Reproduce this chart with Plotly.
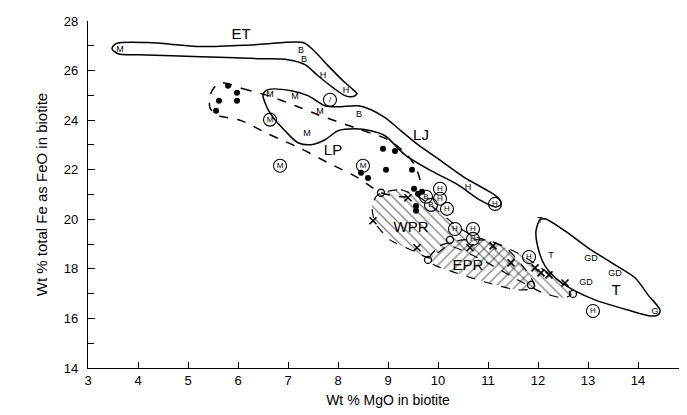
import plotly.graph_objects as go

# ---------------- data (wt % MgO, wt % FeO) ----------------
et_x = [3.48, 3.56, 4.20, 5.26, 6.40, 7.30, 7.50, 7.80, 8.10, 8.30, 8.38, 8.30, 8.14, 7.90, 7.60, 7.34, 7.00, 6.40, 5.26, 4.00, 3.60, 3.48]
et_y = [26.88, 27.09, 27.13, 26.97, 27.05, 27.13, 26.84, 26.20, 25.59, 25.23, 25.07, 24.95, 24.99, 25.31, 25.79, 26.24, 26.44, 26.48, 26.56, 26.64, 26.68, 26.88]

lj_x = [6.50, 6.60, 7.06, 7.40, 7.74, 8.00, 8.40, 8.66, 8.94, 9.26, 9.60, 10.06, 10.54, 11.00, 11.20, 11.26, 11.16, 10.86, 10.40, 9.86, 9.34, 8.94, 8.66, 8.34, 8.00, 7.74, 7.46, 7.20, 6.94, 6.66, 6.54, 6.50]
lj_y = [25.03, 25.23, 25.19, 24.99, 24.58, 24.54, 24.58, 24.42, 24.10, 23.57, 23.01, 22.36, 21.67, 21.15, 20.87, 20.62, 20.50, 20.75, 21.39, 21.96, 22.60, 23.37, 23.57, 23.65, 23.57, 23.21, 23.01, 23.09, 23.57, 24.22, 24.70, 25.03]

lp_x = [5.66, 6.10, 6.60, 7.20, 7.60, 8.34, 9.00, 9.34, 9.54, 9.64, 9.66, 9.60, 9.30, 8.86, 8.40, 7.80, 7.26, 6.60, 6.06, 5.56, 5.44, 5.44, 5.52, 5.66]
lp_y = [25.51, 25.27, 24.99, 24.54, 24.22, 23.69, 23.21, 22.68, 22.16, 21.59, 21.15, 20.95, 20.91, 21.07, 21.67, 22.28, 22.85, 23.45, 23.98, 24.22, 24.50, 24.99, 25.31, 25.51]

wpr_x = [8.86, 9.26, 9.64, 10.00, 10.34, 10.70, 11.20, 11.70, 12.20, 12.54, 12.66, 12.50, 12.10, 11.60, 11.10, 10.60, 10.20, 9.84, 9.50, 9.04, 8.74, 8.68, 8.76, 8.86]
wpr_y = [21.07, 21.19, 20.87, 20.34, 19.78, 19.33, 19.01, 18.52, 17.84, 17.31, 16.95, 16.83, 17.03, 17.55, 18.12, 18.64, 18.93, 18.44, 18.73, 19.17, 19.86, 20.54, 20.91, 21.07]

epr_x = [9.80, 10.04, 10.50, 11.04, 11.40, 11.64, 11.84, 11.94, 11.60, 10.94, 10.30, 9.96, 9.80]
epr_y = [18.36, 18.93, 19.17, 19.13, 18.77, 18.24, 17.72, 17.23, 17.15, 17.47, 17.88, 18.12, 18.36]

t_x = [12.04, 11.96, 12.00, 12.14, 12.40, 12.74, 13.14, 13.80, 14.26, 14.40, 14.44, 14.20, 13.94, 13.54, 13.00, 12.54, 12.14, 12.04]
t_y = [19.98, 19.53, 18.85, 18.12, 17.55, 17.11, 16.75, 16.34, 16.10, 16.14, 16.34, 16.95, 17.64, 18.16, 18.85, 19.53, 20.02, 19.98]

dot_x = [5.80, 5.98, 5.62, 5.98, 5.56, 8.90, 9.14, 8.96, 9.48, 8.46, 8.60, 9.52, 9.60, 9.68, 9.56, 9.56]
dot_y = [25.39, 25.11, 24.78, 24.78, 24.38, 22.85, 22.76, 22.00, 22.00, 21.88, 21.67, 21.23, 21.03, 21.11, 20.54, 20.34]

cross_x = [9.40, 8.70, 9.58, 10.64, 11.10, 11.46, 11.94, 12.06, 12.22, 12.54]
cross_y = [20.87, 19.94, 18.85, 18.85, 18.93, 18.24, 18.04, 17.84, 17.76, 17.43]

ring_x = [8.86, 9.80, 10.24, 11.86, 12.70]
ring_y = [21.07, 18.36, 19.17, 17.35, 16.99]

letter_x = [3.64, 6.64, 7.14, 7.64, 7.38, 7.26, 7.32, 8.42, 7.70, 8.16, 10.60, 12.04, 12.26, 13.06, 13.54, 12.96, 14.34]
letter_y = [26.84, 25.03, 24.95, 24.34, 23.45, 26.80, 26.44, 24.22, 25.79, 25.19, 21.27, 19.94, 18.52, 18.40, 17.80, 17.43, 16.26]
letter_t = ["M", "M", "M", "M", "M", "B", "B", "B", "H", "H", "H", "T", "T", "GD", "GD", "GD", "G"]

circ_x = [6.64, 6.84, 8.50, 11.14, 10.04, 10.04, 10.18, 10.34, 10.70, 10.70, 11.82, 13.10, 9.76, 9.86, 7.84]
circ_y = [24.02, 22.16, 22.16, 20.62, 21.23, 20.83, 20.42, 19.61, 19.61, 19.21, 18.48, 16.30, 20.91, 20.58, 24.82]
circ_t = ["M", "M", "M", "H", "H", "H", "H", "H", "H", "H", "H", "H", "B", "B", "/"]

region_x = [6.06, 9.66, 7.90, 9.46, 10.60, 13.56]
region_y = [27.41, 23.37, 22.76, 19.65, 18.12, 17.11]
region_t = ["ET", "LJ", "LP", "WPR", "EPR", "T"]

x_ticks = list(range(3, 16))
y_ticks = list(range(14, 29, 2))

FONT = "Liberation Sans, Arial, sans-serif"

fig = go.Figure()

# hatched fields
fig.add_trace(go.Scatter(x=wpr_x, y=wpr_y, mode="lines", fill="toself",
                         fillcolor="rgba(0,0,0,0)",
                         fillpattern=dict(shape="\\", fgcolor="black", bgcolor="rgba(0,0,0,0)",
                                          size=7, solidity=0.18, fillmode="overlay"),
                         line=dict(color="black", width=1.2, dash="dash", shape="spline", smoothing=0.6),
                         hoverinfo="skip"))
fig.add_trace(go.Scatter(x=epr_x, y=epr_y, mode="lines", fill="toself",
                         fillcolor="rgba(0,0,0,0)",
                         fillpattern=dict(shape="/", fgcolor="black", bgcolor="rgba(0,0,0,0)",
                                          size=7, solidity=0.18, fillmode="overlay"),
                         line=dict(color="black", width=1.2, dash="dash", shape="spline", smoothing=0.6),
                         hoverinfo="skip"))

# outlines
for xs, ys, dash in [(et_x, et_y, "solid"), (lj_x, lj_y, "solid"), (t_x, t_y, "solid"), (lp_x, lp_y, "dash")]:
    fig.add_trace(go.Scatter(x=xs, y=ys, mode="lines",
                             line=dict(color="black", width=1.5, dash=dash, shape="spline", smoothing=0.8),
                             hoverinfo="skip"))

# symbols
fig.add_trace(go.Scatter(x=dot_x, y=dot_y, mode="markers",
                         marker=dict(symbol="circle", size=6, color="black")))
fig.add_trace(go.Scatter(x=cross_x, y=cross_y, mode="markers",
                         marker=dict(symbol="x-thin-open", size=7, color="black",
                                     line=dict(color="black", width=1.6))))
fig.add_trace(go.Scatter(x=ring_x, y=ring_y, mode="markers",
                         marker=dict(symbol="circle-open", size=7, color="black",
                                     line=dict(color="black", width=1.3))))
fig.add_trace(go.Scatter(x=circ_x, y=circ_y, mode="markers+text", text=circ_t,
                         textposition="middle center",
                         textfont=dict(family=FONT, size=8, color="black"),
                         marker=dict(symbol="circle-open", size=13, color="black",
                                     line=dict(color="black", width=1.1))))
fig.add_trace(go.Scatter(x=letter_x, y=letter_y, mode="text", text=letter_t,
                         textposition="middle center",
                         textfont=dict(family=FONT, size=9, color="black")))
fig.add_trace(go.Scatter(x=region_x, y=region_y, mode="text", text=region_t,
                         textposition="middle center",
                         textfont=dict(family=FONT, size=15, color="black")))

fig.update_layout(
    width=687, height=415,
    margin=dict(l=80, r=7, t=13, b=55),
    paper_bgcolor="white", plot_bgcolor="white",
    showlegend=False,
    colorway=["black"],
    font=dict(family=FONT, color="black", size=13),
    xaxis=dict(range=[3, 15], tickvals=x_ticks, ticktext=[str(v) for v in x_ticks],
               showgrid=False, zeroline=False, showline=True, linecolor="black", linewidth=1.3,
               ticks="inside", ticklen=6, tickwidth=1.3, tickcolor="black",
               tickfont=dict(family=FONT, size=13),
               title=dict(text="Wt % MgO in biotite", font=dict(family=FONT, size=14), standoff=8)),
    yaxis=dict(range=[14, 28], tickvals=y_ticks, ticktext=[str(v) for v in y_ticks],
               showgrid=False, zeroline=False, showline=True, linecolor="black", linewidth=1.3,
               ticks="inside", ticklen=7, tickwidth=1.3, tickcolor="black",
               ticklabelstandoff=6,
               minor=dict(dtick=1, ticks="inside", ticklen=6, tickwidth=1.1, tickcolor="black", showgrid=False),
               tickfont=dict(family=FONT, size=13),
               title=dict(text="Wt % total Fe as FeO in biotite", font=dict(family=FONT, size=15), standoff=12)),
)

fig.write_html("out.html")
